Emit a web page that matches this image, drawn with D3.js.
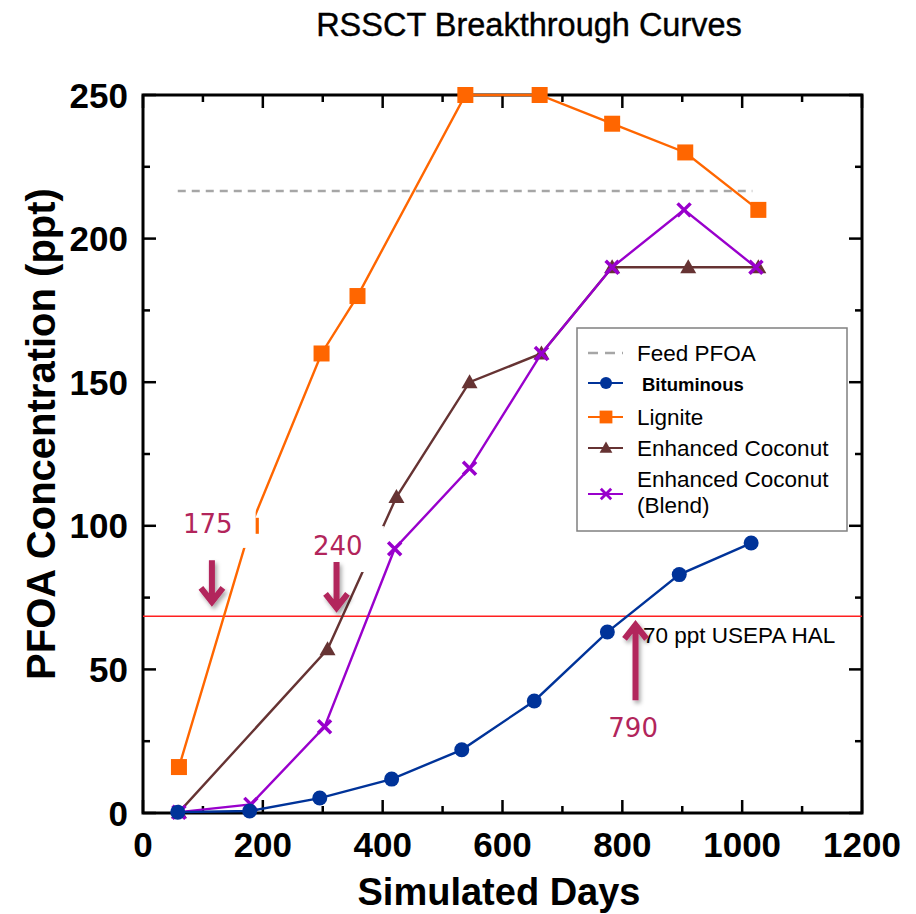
<!DOCTYPE html>
<html>
<head>
<meta charset="utf-8">
<script src="https://cdnjs.cloudflare.com/ajax/libs/d3/7.8.5/d3.min.js"></script>
<style>
  body { margin: 0; background: #fff; }
</style>
</head>
<body>
<div id="chart"></div>
<script>
// ~~~~~~~~~~~~~~ values ~~~~~~~~~~~~~~
var bituminousDays = [58, 178, 295, 415, 532, 653, 775, 895, 1015];
var bituminousPFOA = [0.3, 0.7, 5.2, 11.8, 22, 39, 63, 83, 94];

var ligniteDays = [60, 180, 298, 358, 538, 662, 783, 905, 1027];
var lignitePFOA = [16, 100, 160, 180, 250, 250, 240, 230, 210];

var coconutDays = [60, 308, 423, 545, 665, 783, 910, 1027];
var coconutPFOA = [0.3, 57, 110, 150, 160, 190, 190, 190];

var blendDays = [60, 180, 303, 420, 545, 665, 783, 903, 1023];
var blendPFOA = [0.3, 3, 30, 92, 120, 160, 190, 210, 190];

var feedDays = [58, 1017];
var feedPFOA = 216.6;
var halPFOA = 68.5;
var halLabel = "70 ppt USEPA HAL";

var xTicks = [0, 200, 400, 600, 800, 1000, 1200];
var yTicks = [0, 50, 100, 150, 200, 250];

// call-out arrows (days / ppt)
var calloutLabels = ["175", "240", "790"];
var calloutDays = [115, 323, 822];
var calloutFrom = [88, 87.4, 39.3];
var calloutTo = [73.5, 71.4, 65.5];
var calloutLabelDays = [108, 325, 818];
var calloutLabelPFOA = [97.5, 89.8, 26.5];

var legendNames = ["Feed PFOA", "Bituminous", "Lignite", "Enhanced Coconut", "Enhanced Coconut|(Blend)"];

// ~~~~~~~~~~~~~~ svg setup ~~~~~~~~~~~~~~
var svgwidth = 916, svgheight = 914;
var margin = {top: 95, right: 54, bottom: 101, left: 143};
var width = svgwidth - margin.left - margin.right;
var height = svgheight - margin.top - margin.bottom;

var svg = d3.select("#chart").append("svg")
  .attr("width", svgwidth)
  .attr("height", svgheight);

var defs = svg.append("defs");
var shadow = defs.append("filter").attr("id", "shadow")
  .attr("x", "-50%").attr("y", "-50%").attr("width", "200%").attr("height", "200%");
shadow.append("feDropShadow")
  .attr("dx", 2).attr("dy", 3).attr("stdDeviation", 2)
  .attr("flood-color", "#000").attr("flood-opacity", 0.35);

var x = d3.scaleLinear().domain([0, 1200]).range([margin.left, margin.left + width]);
var y = d3.scaleLinear().domain([0, 250]).range([margin.top + height, margin.top]);

var boldFont = "'Liberation Sans', Arial, sans-serif";

// title
svg.append("text")
  .attr("x", 529).attr("y", 36)
  .attr("text-anchor", "middle")
  .attr("font-family", boldFont)
  .attr("font-size", 32.5)
  .attr("stroke", "#000").attr("stroke-width", 0.4)
  .text("RSSCT Breakthrough Curves");

// ~~~~~~~~~~~~~~ axes, ticks inward on all four sides ~~~~~~~~~~~~~~
var xMinor = d3.range(0, 1201, 100);
var yMinor = d3.range(0, 251, 25);

function tickLen(v, step) { return v % step === 0 ? 13 : 7; }

var g = svg.append("g");

// draw ticks by hand so major and minor lengths differ
xMinor.forEach(function(v) {
  var L = tickLen(v, 200);
  g.append("line").attr("x1", x(v)).attr("x2", x(v))
    .attr("y1", y(0)).attr("y2", y(0) - L)
    .attr("stroke", "#000").attr("stroke-width", 2.5);
  g.append("line").attr("x1", x(v)).attr("x2", x(v))
    .attr("y1", y(250)).attr("y2", y(250) + L)
    .attr("stroke", "#000").attr("stroke-width", 2.5);
});
yMinor.forEach(function(v) {
  var L = tickLen(v, 50);
  g.append("line").attr("x1", x(0)).attr("x2", x(0) + L)
    .attr("y1", y(v)).attr("y2", y(v))
    .attr("stroke", "#000").attr("stroke-width", 2.5);
  g.append("line").attr("x1", x(1200)).attr("x2", x(1200) - L)
    .attr("y1", y(v)).attr("y2", y(v))
    .attr("stroke", "#000").attr("stroke-width", 2.5);
});

// frame
svg.append("rect")
  .attr("x", x(0)).attr("y", y(250))
  .attr("width", x(1200) - x(0)).attr("height", y(0) - y(250))
  .attr("fill", "none").attr("stroke", "#000").attr("stroke-width", 3);

// tick labels
svg.append("g").selectAll("text").data(xTicks).enter().append("text")
  .attr("x", d => x(d)).attr("y", y(0) + 44)
  .attr("text-anchor", "middle")
  .attr("font-family", boldFont).attr("font-weight", "bold").attr("font-size", 35)
  .text(d => d);
svg.append("g").selectAll("text").data(yTicks).enter().append("text")
  .attr("x", x(0) - 15).attr("y", d => y(d) + 12.5)
  .attr("text-anchor", "end")
  .attr("font-family", boldFont).attr("font-weight", "bold").attr("font-size", 35)
  .text(d => d);

// axis titles
svg.append("text")
  .attr("x", 499).attr("y", 905)
  .attr("text-anchor", "middle")
  .attr("font-family", boldFont).attr("font-weight", "bold").attr("font-size", 38)
  .text("Simulated Days");
svg.append("text")
  .attr("transform", "translate(55,434) rotate(-90)")
  .attr("text-anchor", "middle")
  .attr("font-family", boldFont).attr("font-weight", "bold").attr("font-size", 40)
  .text("PFOA Concentration (ppt)");

// ~~~~~~~~~~~~~~ reference lines ~~~~~~~~~~~~~~
svg.append("line")
  .attr("x1", x(feedDays[0])).attr("x2", x(feedDays[1]))
  .attr("y1", y(feedPFOA)).attr("y2", y(feedPFOA))
  .attr("stroke", "#a6a6a6").attr("stroke-width", 2.5)
  .attr("stroke-dasharray", "8,6");

svg.append("line")
  .attr("x1", x(0)).attr("x2", x(1200))
  .attr("y1", y(halPFOA)).attr("y2", y(halPFOA))
  .attr("stroke", "#ff2020").attr("stroke-width", 1.3);

svg.append("text")
  .attr("x", 643).attr("y", y(halPFOA) + 27)
  .attr("font-family", boldFont).attr("font-size", 22.5)
  .text(halLabel);

// ~~~~~~~~~~~~~~ series ~~~~~~~~~~~~~~
function zip(days, vals) { return days.map(function(d, i) { return [d, vals[i]]; }); }
var line = d3.line().x(d => x(d[0])).y(d => y(d[1]));

var series = [
  {data: zip(ligniteDays, lignitePFOA), color: "#ff6600", mark: "square"},
  {data: zip(coconutDays, coconutPFOA), color: "#663333", mark: "triangle"},
  {data: zip(blendDays, blendPFOA), color: "#9900cc", mark: "cross"},
  {data: zip(bituminousDays, bituminousPFOA), color: "#003399", mark: "circle"}
];

function drawMark(sel, mark, color, s) {
  if (mark === "circle") {
    sel.append("circle").attr("r", 7.5 * s).attr("fill", color);
  } else if (mark === "square") {
    sel.append("rect").attr("x", -8 * s).attr("y", -8 * s)
      .attr("width", 16 * s).attr("height", 16 * s).attr("fill", color);
  } else if (mark === "triangle") {
    sel.append("path").attr("d", "M0," + (-8 * s) + "L" + (8 * s) + "," + (6 * s) + "L" + (-8 * s) + "," + (6 * s) + "Z")
      .attr("fill", color);
  } else {
    var r = 6.5 * s;
    sel.append("path").attr("d", "M" + -r + "," + -r + "L" + r + "," + r + "M" + -r + "," + r + "L" + r + "," + -r)
      .attr("stroke", color).attr("stroke-width", 3.5 * s).attr("fill", "none");
  }
}

series.forEach(function(sr) {
  svg.append("path").datum(sr.data)
    .attr("d", line)
    .attr("fill", "none")
    .attr("stroke", sr.color)
    .attr("stroke-width", 2.4);
  svg.append("g").selectAll("g").data(sr.data).enter().append("g")
    .attr("transform", d => "translate(" + x(d[0]) + "," + y(d[1]) + ")")
    .each(function() { drawMark(d3.select(this), sr.mark, sr.color, 1); });
});

// ~~~~~~~~~~~~~~ call-outs ~~~~~~~~~~~~~~
// white patches behind the first two labels (they cover the lines in the original)
svg.append("rect")
  .attr("x", x(45)).attr("y", y(107.2))
  .attr("width", x(188) - x(45)).attr("height", y(92.3) - y(107.2))
  .attr("fill", "#fff");
svg.append("rect")
  .attr("x", x(253)).attr("y", y(99.9))
  .attr("width", x(402) - x(253)).attr("height", y(83.9) - y(99.9))
  .attr("fill", "#fff");

var crimson = "#b2255b";
calloutLabels.forEach(function(lab, i) {
  var ax = x(calloutDays[i]);
  var y0 = y(calloutFrom[i]);
  var y1 = y(calloutTo[i]);
  var dir = y1 > y0 ? 1 : -1;
  svg.append("path")
    .attr("d", "M" + ax + "," + y0 + "L" + ax + "," + (y1 - dir * 2) +
      "M" + (ax - 11) + "," + (y1 - dir * 14) + "L" + ax + "," + y1 + "L" + (ax + 11) + "," + (y1 - dir * 14))
    .attr("fill", "none")
    .attr("stroke", crimson)
    .attr("stroke-width", 6)
    .attr("stroke-linejoin", "miter")
    .attr("filter", "url(#shadow)");
  svg.append("text")
    .attr("x", x(calloutLabelDays[i])).attr("y", y(calloutLabelPFOA[i]))
    .attr("text-anchor", "middle")
    .attr("font-family", "'DejaVu Sans', sans-serif")
    .attr("font-size", 26)
    .attr("fill", crimson)
    .text(lab);
});

// ~~~~~~~~~~~~~~ legend ~~~~~~~~~~~~~~
var legend = svg.append("g").attr("transform", "translate(577,328)");
legend.append("rect")
  .attr("width", 270).attr("height", 203)
  .attr("fill", "#fff").attr("stroke", "#808080").attr("stroke-width", 1.5);

var legendRows = [25, 55, 89, 120, 166];
var legendMarks = [null, {mark: "circle", color: "#003399"}, {mark: "square", color: "#ff6600"},
  {mark: "triangle", color: "#663333"}, {mark: "cross", color: "#9900cc"}];

legendNames.forEach(function(name, i) {
  var ry = legendRows[i];
  if (i === 0) {
    legend.append("line").attr("x1", 11).attr("x2", 46).attr("y1", ry).attr("y2", ry)
      .attr("stroke", "#a6a6a6").attr("stroke-width", 2.5).attr("stroke-dasharray", "10,7");
  } else {
    var m = legendMarks[i];
    legend.append("line").attr("x1", 11).attr("x2", 46).attr("y1", ry).attr("y2", ry)
      .attr("stroke", m.color).attr("stroke-width", 2.2);
    var mg = legend.append("g").attr("transform", "translate(29," + ry + ")");
    drawMark(mg, m.mark, m.color, 0.8);
  }
  var parts = name.split("|");
  var t = legend.append("text")
    .attr("font-family", boldFont)
    .attr("font-size", i === 1 ? 18.5 : 22.5)
    .attr("font-weight", i === 1 ? "bold" : "normal");
  if (parts.length === 1) {
    t.attr("x", i === 1 ? 65 : 60).attr("y", ry + 7.5).text(name);
  } else {
    t.append("tspan").attr("x", 60).attr("y", ry - 7).text(parts[0]);
    t.append("tspan").attr("x", 60).attr("y", ry + 19).text(parts[1]);
  }
});
</script>
</body>
</html>
